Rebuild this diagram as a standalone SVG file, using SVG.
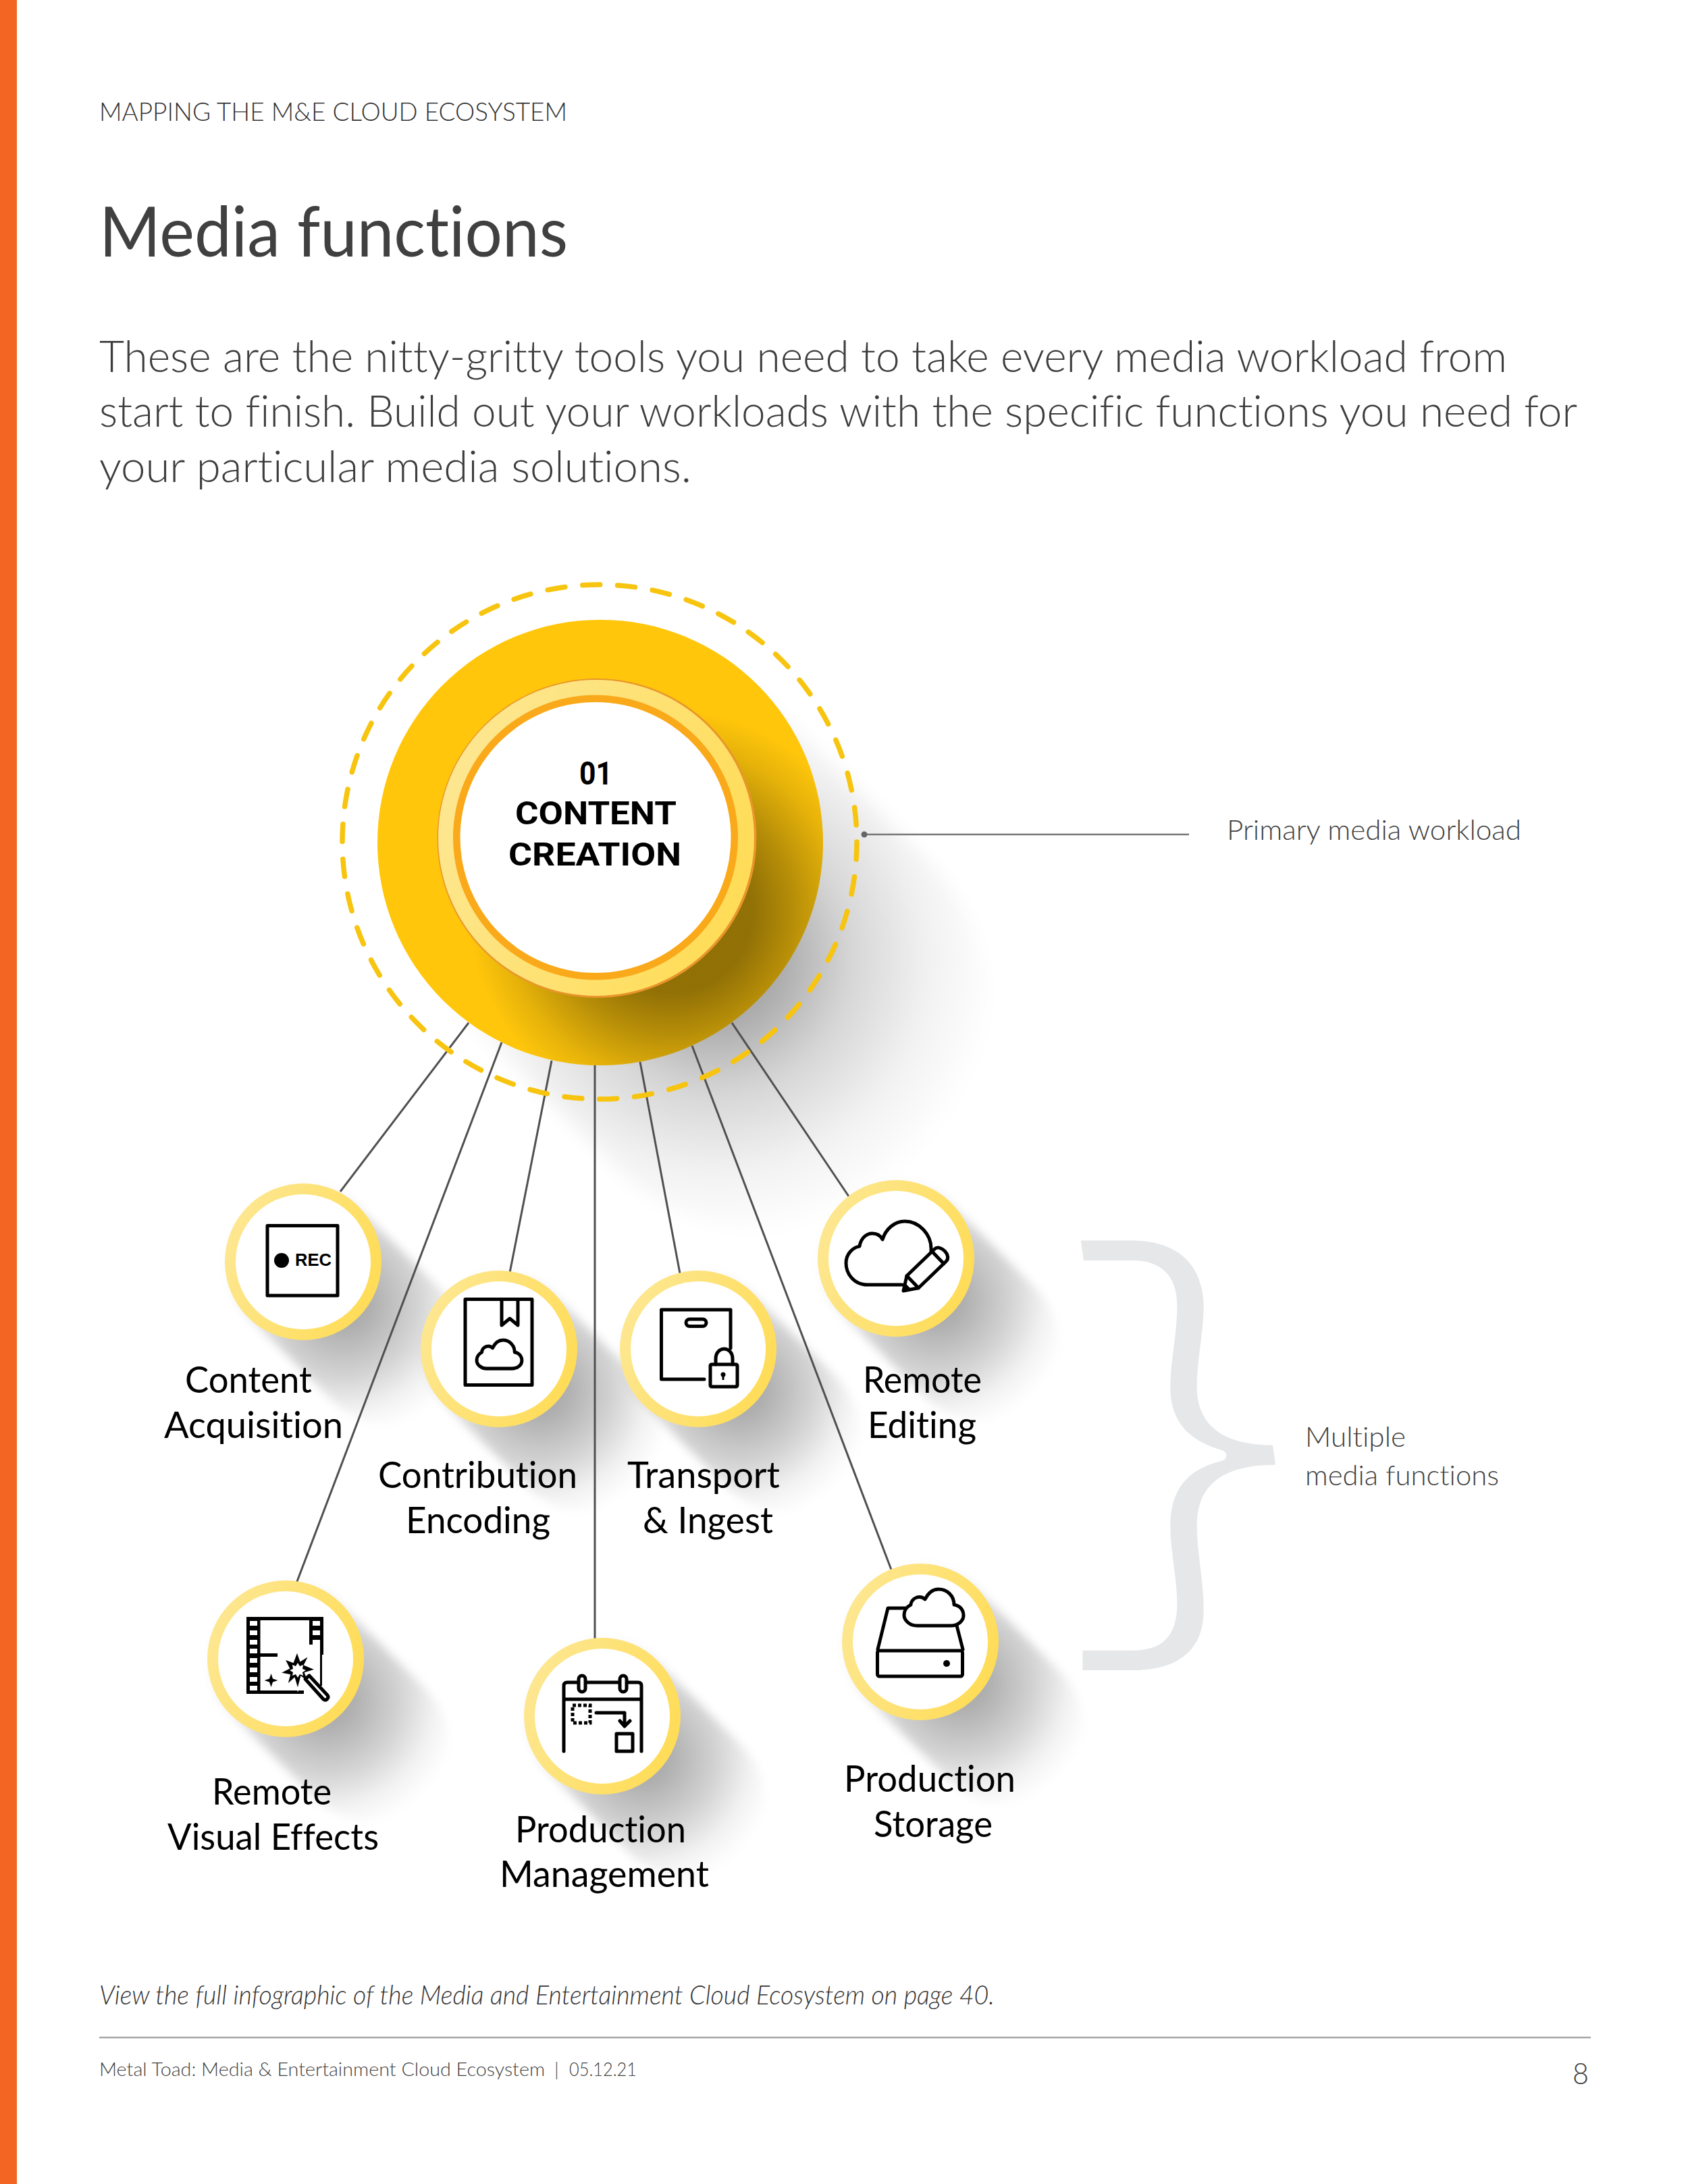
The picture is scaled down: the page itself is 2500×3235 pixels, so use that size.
<svg xmlns="http://www.w3.org/2000/svg" xmlns:xlink="http://www.w3.org/1999/xlink" width="2500" height="3235" viewBox="0 0 2500 3235">
<style>
text{font-family:"Lato","Open Sans","Liberation Sans",sans-serif;font-variant-ligatures:none;white-space:pre}
.hd{font-size:38px;fill:#333;font-weight:300}
.ti{font-size:103px;fill:#404040;font-weight:400}
.bd{font-size:66px;fill:#3d3d3d;font-weight:300}
.lb{font-size:54px;fill:#000}
.nt{font-size:42px;fill:#404040;font-weight:300}
.ctr{font-family:"Roboto","Liberation Sans",sans-serif;font-size:48px;font-weight:700;fill:#000;text-anchor:start}
.cn{stroke:#505050;stroke-width:3;fill:none}
.ic{fill:none;stroke:#000;stroke-width:5;stroke-linejoin:round;stroke-linecap:round}
.icw{fill:#fff;stroke:#000;stroke-width:5;stroke-linejoin:round;stroke-linecap:round}
.k{fill:#000}
</style>
<defs>
<linearGradient id="ring" x1="0" y1="0.3" x2="1" y2="0.7"><stop offset="0" stop-color="#FDE792"/><stop offset="1" stop-color="#FFDC55"/></linearGradient>
<radialGradient id="sgS" gradientUnits="userSpaceOnUse" cx="60" cy="60" r="200"><stop offset="0.18" stop-color="#000" stop-opacity="0.32"/><stop offset="0.55" stop-color="#000" stop-opacity="0.17"/><stop offset="0.8" stop-color="#000" stop-opacity="0.05"/><stop offset="1" stop-color="#000" stop-opacity="0"/></radialGradient>
<radialGradient id="sgL" gradientUnits="userSpaceOnUse" cx="1059" cy="1418" r="420"><stop offset="0.21" stop-color="#000" stop-opacity="0.34"/><stop offset="0.48" stop-color="#000" stop-opacity="0.16"/><stop offset="0.76" stop-color="#000" stop-opacity="0.05"/><stop offset="1" stop-color="#000" stop-opacity="0"/></radialGradient>
<radialGradient id="sgI" gradientUnits="userSpaceOnUse" cx="994" cy="1351" r="300"><stop offset="0.4" stop-color="#000" stop-opacity="0.43"/><stop offset="0.61" stop-color="#000" stop-opacity="0.28"/><stop offset="0.83" stop-color="#000" stop-opacity="0.1"/><stop offset="1" stop-color="#000" stop-opacity="0"/></radialGradient>
<filter id="bl" filterUnits="userSpaceOnUse" x="-300" y="-300" width="1000" height="1000"><feGaussianBlur stdDeviation="7"/></filter>
<filter id="blL" filterUnits="userSpaceOnUse" x="400" y="800" width="1400" height="1400"><feGaussianBlur stdDeviation="12"/></filter>
<line id="sh" x1="0" y1="0" x2="125" y2="125" stroke="url(#sgS)" stroke-width="230" stroke-linecap="round" filter="url(#bl)"/>
<g id="ringNode"><circle r="116" fill="url(#ring)"/><circle r="100" fill="#fff"/></g>
<path id="cloud" d="M1358 2408L1408 2408C1420 2408 1427 2400 1427 2393C1427 2384 1421 2378 1413 2377C1413 2364 1403 2354 1390 2354C1381 2354 1374 2361 1370 2369C1366 2365 1362 2365 1358 2366C1352 2368 1349 2373 1349 2377C1343 2380 1339 2386 1339 2392C1339 2401 1348 2408 1358 2408Z"/>
</defs>
<rect width="2500" height="3235" fill="#fff"/>
<rect id="sidebar" width="25" height="3235" fill="#F26522"/>

<text class="hd" x="147" y="179" textLength="693" lengthAdjust="spacingAndGlyphs">MAPPING THE M&amp;E CLOUD ECOSYSTEM</text>
<text class="ti" x="147" y="380" textLength="694" lengthAdjust="spacingAndGlyphs">Media functions</text>
<text class="bd" x="147" y="551" textLength="2085" lengthAdjust="spacingAndGlyphs">These are the nitty-gritty tools you need to take every media workload from</text>
<text class="bd" x="147" y="632" textLength="2189" lengthAdjust="spacingAndGlyphs">start to finish. Build out your workloads with the specific functions you need for</text>
<text class="bd" x="147" y="714" textLength="877" lengthAdjust="spacingAndGlyphs">your particular media solutions.</text>

<g id="shadows">
<line x1="889" y1="1248" x2="1139" y2="1498" stroke="url(#sgL)" stroke-width="650" stroke-linecap="round" filter="url(#blL)"/>
<use href="#sh" x="449" y="1869"/>
<use href="#sh" x="739" y="1998"/>
<use href="#sh" x="1034" y="1998"/>
<use href="#sh" x="1327" y="1864"/>
<use href="#sh" x="423" y="2457"/>
<use href="#sh" x="892" y="2542"/>
<use href="#sh" x="1363" y="2432"/>
</g>

<g id="connectors">
<line class="cn" x1="694" y1="1515" x2="504" y2="1765"/>
<line class="cn" x1="743" y1="1544" x2="439" y2="2345"/>
<line class="cn" x1="817" y1="1571" x2="755" y2="1885"/>
<line class="cn" x1="881" y1="1575" x2="881" y2="2430"/>
<line class="cn" x1="948" y1="1573" x2="1007" y2="1886"/>
<line class="cn" x1="1025" y1="1549" x2="1320" y2="2325"/>
<line class="cn" x1="1084" y1="1515" x2="1257" y2="1772"/>
<line x1="1280" y1="1236" x2="1761" y2="1236" stroke="#777" stroke-width="2.5"/>
<circle cx="1280" cy="1236" r="4.5" fill="#666"/>
</g>

<g id="node-01">
<circle cx="888" cy="1247" r="381" fill="none" stroke="#F7C40F" stroke-width="7.5" stroke-dasharray="26 26.04" stroke-linecap="round"/>
<circle cx="889" cy="1248" r="330" fill="#FFC60B"/>
<circle cx="889" cy="1248" r="330" fill="url(#sgI)"/>
<circle cx="884" cy="1241.5" r="236.5" fill="#E9952B"/>
<circle cx="883" cy="1241" r="234" fill="url(#ring)"/>
<circle cx="882" cy="1240.5" r="211" fill="#F9A91A"/>
<circle cx="882" cy="1240.5" r="200.5" fill="#fff"/>
<text class="ctr" x="858" y="1162" textLength="49" lengthAdjust="spacingAndGlyphs">01</text>
<text class="ctr" x="763" y="1221" textLength="239" lengthAdjust="spacingAndGlyphs">CONTENT</text>
<text class="ctr" x="753" y="1282" textLength="256" lengthAdjust="spacingAndGlyphs">CREATION</text>
</g>

<g id="node-acquisition">
<use href="#ringNode" x="449" y="1869"/>
<rect class="ic" x="396" y="1815.5" width="104" height="103.5" style="stroke-linecap:butt"/>
<circle class="k" cx="417" cy="1867" r="11"/>
<text x="437" y="1875" textLength="54" lengthAdjust="spacingAndGlyphs" style="font-family:'Liberation Sans',sans-serif;font-weight:700;font-size:25px;fill:#000">REC</text>
<text class="lb" x="274" y="2063" textLength="188" lengthAdjust="spacingAndGlyphs">Content</text>
<text class="lb" x="243" y="2130" textLength="265" lengthAdjust="spacingAndGlyphs">Acquisition</text>
</g>

<g id="node-contribution">
<use href="#ringNode" x="739" y="1998"/>
<rect class="ic" x="689" y="1924.5" width="99" height="127"/>
<path class="ic" d="M743 1925V1963L755 1953L767 1963V1925"/>
<use href="#cloud" class="ic" transform="translate(706 1985) scale(.76 .78) translate(-1339 -2354)" style="stroke-width:6.5"/>
<text class="lb" x="560" y="2204" textLength="295" lengthAdjust="spacingAndGlyphs">Contribution</text>
<text class="lb" x="601" y="2271" textLength="214" lengthAdjust="spacingAndGlyphs">Encoding</text>
</g>

<g id="node-transport">
<use href="#ringNode" x="1034" y="1998"/>
<path class="ic" d="M1082 1997V1940H979.500V2043H1043"/>
<rect class="ic" x="1016" y="1954" width="30" height="10.500" rx="5.200"/>
<path class="ic" d="M1060 2021V2013C1060 1993 1085 1993 1085 2013V2021"/>
<rect class="ic" x="1052" y="2021" width="40" height="33" rx="2"/>
<circle class="k" cx="1071" cy="2036" r="3.500"/>
<rect class="k" x="1069.500" y="2037" width="3" height="7"/>
<text class="lb" x="929" y="2204" textLength="226" lengthAdjust="spacingAndGlyphs">Transport</text>
<text class="lb" x="952" y="2271" textLength="193" lengthAdjust="spacingAndGlyphs">&amp; Ingest</text>
</g>

<g id="node-editing">
<use href="#ringNode" x="1327" y="1864"/>
<path class="ic" d="M1336 1903L1285 1903C1264 1903 1253 1886 1253 1871C1253 1857 1263 1848 1273 1846C1275 1834 1283 1827 1292 1827C1299 1827 1304 1830 1307 1836C1312 1820 1325 1809 1340 1809C1362 1809 1379 1829 1379 1849V1853"/>
<g transform="translate(1338 1912) rotate(-44)">
<path class="ic" d="M0 0L19 -12.500H76C88 -12.500 88 12.500 76 12.500H19Z"/>
<path class="ic" d="M19 -12.500V12.500M71 -12.500V12.500"/>
<path class="k" d="M0 0L10 -6.500V6.500Z"/>
</g>
<text class="lb" x="1278" y="2063" textLength="176" lengthAdjust="spacingAndGlyphs">Remote</text>
<text class="lb" x="1285" y="2130" textLength="161" lengthAdjust="spacingAndGlyphs">Editing</text>
</g>

<g id="node-vfx">
<use href="#ringNode" x="423" y="2457"/>
<path class="k" fill-rule="evenodd" d="M365 2395H479V2451H474V2436H458V2400H385.500V2449H411V2454H385.500V2504H450V2509H365ZM370 2401V2408H381V2401ZM370 2415V2422H381V2415ZM370 2429V2436H381V2429ZM370 2442V2449H381V2442ZM370 2456V2463H381V2456ZM370 2470V2477H381V2470ZM370 2484V2491H381V2484ZM370 2497V2504H381V2497ZM463 2401V2408H474V2401ZM463 2415V2422H474V2415ZM463 2429V2436H474V2429Z"/>
<rect class="k" x="474" y="2445" width="3" height="52"/>
<path fill="#000" stroke="#fff" stroke-width="2" d="M440 2446L445 2460L458 2452L451 2466L468 2473L452 2478L457 2492L446 2484L441 2503L436 2486L425 2496L429 2481L414 2478L428 2471L421 2457L434 2462Z"/>
<path fill="#fff" d="M441 2463L444 2468L449 2466L448 2472L453 2474L448 2477L449 2482L444 2480L441 2485L438 2480L433 2482L434 2477L429 2474L434 2472L433 2466L438 2468Z"/>
<path class="icw" d="M452 2487L458 2482L485 2511C488 2515 483 2520 479 2517Z"/>
<path class="k" d="M401.500 2479L404 2486.500L411.500 2489L404 2491.500L401.500 2499L399 2491.500L391.500 2489L399 2486.500Z"/>
<text class="lb" x="314" y="2673" textLength="177" lengthAdjust="spacingAndGlyphs">Remote</text>
<text class="lb" x="248" y="2740" textLength="313" lengthAdjust="spacingAndGlyphs">Visual Effects</text>
</g>

<g id="node-management">
<use href="#ringNode" x="892" y="2542"/>
<path class="ic" d="M835 2594V2497Q835 2492 840 2492H945Q950 2492 950 2497V2594M835 2517H950"/>
<rect class="icw" x="857" y="2482" width="10" height="24" rx="5"/>
<rect class="icw" x="918" y="2482" width="10" height="24" rx="5"/>
<rect x="848" y="2526" width="26" height="26" fill="none" stroke="#000" stroke-width="5" stroke-dasharray="5 3"/>
<path class="ic" d="M883 2537H925V2556M918 2549L925 2557L933 2549"/>
<rect class="ic" x="913" y="2568" width="24" height="26" style="stroke-linecap:butt"/>
<text class="lb" x="763" y="2729" textLength="253" lengthAdjust="spacingAndGlyphs">Production</text>
<text class="lb" x="740" y="2795" textLength="310" lengthAdjust="spacingAndGlyphs">Management</text>
</g>

<g id="node-storage">
<use href="#ringNode" x="1363" y="2432"/>
<path class="ic" d="M1300 2443L1315 2382H1346M1417 2408L1426 2443"/>
<rect class="ic" x="1299.500" y="2445" width="126" height="38" rx="3"/>
<circle class="k" cx="1402" cy="2464" r="5"/>
<use href="#cloud" class="icw"/>
<text class="lb" x="1250" y="2654" textLength="254" lengthAdjust="spacingAndGlyphs">Production</text>
<text class="lb" x="1294" y="2721" textLength="176" lengthAdjust="spacingAndGlyphs">Storage</text>
</g>

<g id="brace">
<path fill="#E6E7E8" transform="translate(1560 1800) scale(.33333 .44643)" d="M122 84L350 84C560 84 670 170 668 310C665 400 638 480 638 570C638 700 760 763 975 763L987 828C760 828 638 890 638 1030C638 1120 668 1210 668 1310C668 1440 560 1510 350 1510L130 1510L130 1444L350 1444C480 1444 550 1400 550 1290C550 1200 520 1120 520 1030C520 900 610 840 750 815C775 810 775 785 750 780C610 750 520 690 520 570C520 480 550 400 550 300C550 200 480 150 350 150L135 150Z"/>
</g>

<text class="nt" x="1817" y="1244" textLength="436" lengthAdjust="spacingAndGlyphs">Primary media workload</text>
<text class="nt" x="1933" y="2143" textLength="149" lengthAdjust="spacingAndGlyphs">Multiple</text>
<text class="nt" x="1933" y="2200" textLength="287" lengthAdjust="spacingAndGlyphs">media functions</text>

<text x="147" y="2969" textLength="1326" lengthAdjust="spacingAndGlyphs" style="font-size:39px;font-style:italic;font-weight:300;fill:#333">View the full infographic of the Media and Entertainment Cloud Ecosystem on page 40.</text>
<line x1="147" y1="3018" x2="2356" y2="3018" stroke="#A8A8A8" stroke-width="2.500"/>
<text y="3075" style="font-size:28px;font-weight:300;fill:#404040"><tspan x="147" textLength="660" lengthAdjust="spacingAndGlyphs">Metal Toad: Media &amp; Entertainment Cloud Ecosystem</tspan><tspan x="821">|</tspan><tspan x="843" textLength="100" lengthAdjust="spacingAndGlyphs">05.12.21</tspan></text>
<text x="2329" y="3087" textLength="24" lengthAdjust="spacingAndGlyphs" style="font-size:44px;font-weight:300;fill:#404040">8</text>
</svg>
